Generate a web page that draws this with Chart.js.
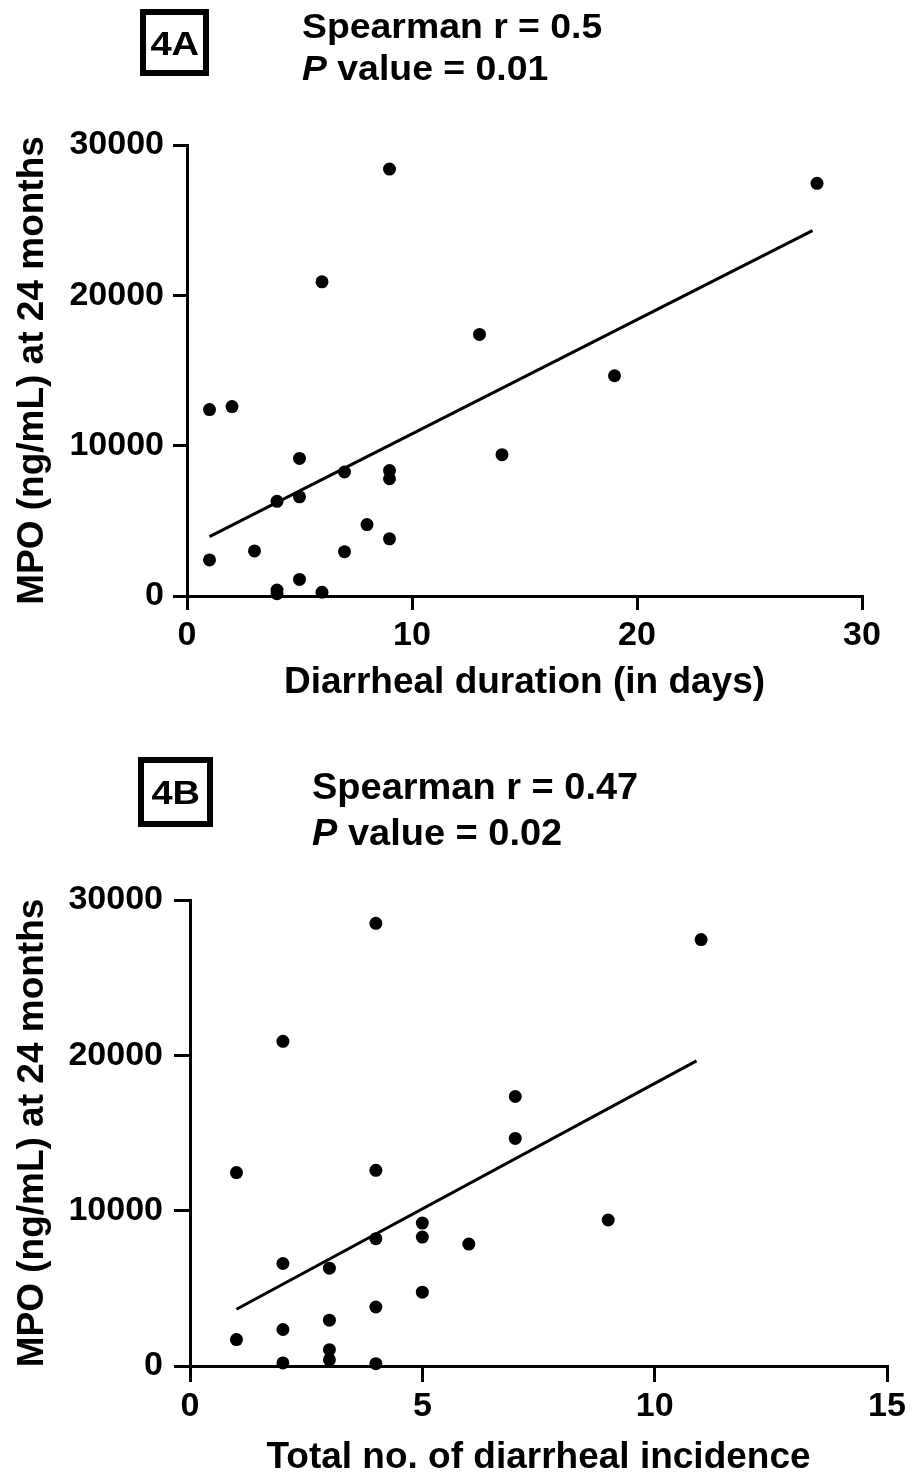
<!DOCTYPE html>
<html>
<head>
<meta charset="utf-8">
<script src="https://cdn.jsdelivr.net/npm/chart.js@4.4.1/dist/chart.umd.min.js"></script>
<style>
    html, body { margin: 0; padding: 0; background: #fff; overflow: hidden; }
    body { width: 918px; height: 1475px; position: relative; color: #000;
           font-family: "Liberation Sans", Arial, sans-serif; font-weight: bold; }
    canvas { position: absolute; left: 0; }
    #chartA { top: 0; }
    #chartB { top: 740px; }
    .tag { position: absolute; box-sizing: border-box; border: 6px solid #000;
           display: flex; align-items: center; justify-content: center; font-size: 34px; line-height: 1; }
    .tag span { display: inline-block; transform: scaleX(1.12); }
    .stat { position: absolute; white-space: nowrap; line-height: 1; transform-origin: 0 50%; }
</style>
</head>
<body>
<canvas id="chartA" width="918" height="720"></canvas>
<canvas id="chartB" width="918" height="735"></canvas>

<div class="tag" style="left:140px;top:9px;width:69px;height:67px"><span>4A</span></div>
<div class="stat" style="left:302px;top:8px;font-size:35px;transform:scaleX(1.068)">Spearman r = 0.5</div>
<div class="stat" style="left:302px;top:50px;font-size:35px;transform:scaleX(1.068)"><i>P</i> value = 0.01</div>

<div class="tag" style="left:138px;top:757px;width:75px;height:70px"><span>4B</span></div>
<div class="stat" style="left:312px;top:769px;font-size:36px;transform:scaleX(1.055)">Spearman r = 0.47</div>
<div class="stat" style="left:312px;top:815px;font-size:36px;transform:scaleX(1.055)"><i>P</i> value = 0.02</div>

<script>
// Panel A: MPO vs diarrheal duration (days)
const durationDays = [1, 1, 2, 3, 4, 4, 4, 5, 5, 5, 6, 6, 7, 7, 8, 9, 9, 9, 9, 13, 14, 19, 28];
const mpoA = [12400, 2400, 12600, 3000, 6300, 400, 150, 9150, 6600, 1100, 20900, 250,
              8250, 2950, 4750, 28400, 8350, 7800, 3800, 17400, 9400, 14650, 27450];
const fitAx = [1, 27.8];
const fitAy = [3950, 24300];
const daysTicks = [0, 10, 20, 30];

// Panel B: MPO vs total no. of diarrheal episodes
const incidence = [1, 1, 2, 2, 2, 2, 3, 3, 3, 3, 4, 4, 4, 4, 4, 5, 5, 5, 6, 7, 7, 9, 11];
const mpoB = [12450, 1700, 20900, 6600, 2350, 200, 6300, 2950, 1050, 400, 28500, 12600,
              8200, 3800, 150, 9200, 8300, 4750, 7850, 17350, 14650, 9400, 27450];
const fitBx = [1, 10.9];
const fitBy = [3650, 19640];
const incidenceTicks = [0, 5, 10, 15];

const mpoTicks = [0, 10000, 20000, 30000];
const yTitle = 'MPO (ng/mL) at 24 months';

const family = '"Liberation Sans", Arial, sans-serif';
const tickFont = { family, size: 34, weight: 'bold', lineHeight: 1 };
const titleFont = { family, size: 37, weight: 'bold', lineHeight: 1 };

// Pin the plot box so both panels sit where the reference puts them.
panel('chartA', durationDays, mpoA, fitAx, fitAy, daysTicks, 'Diarrheal duration (in days)',
    { top: 145, right: 56, yWidth: 187, xHeight: 124, yTick: [14, 9], xTick: [14, 9], xTitlePad: 18.5 });
panel('chartB', incidence, mpoB, fitBx, fitBy, incidenceTicks, 'Total no. of diarrheal incidence',
    { top: 160, right: 31, yWidth: 190, xHeight: 109, yTick: [16, 11], xTick: [16, 8], xTitlePad: -1 });

function panel(id, xs, ys, fx, fy, xTicks, xTitle, box) {
    const toPoints = (a, b) => a.map((x, i) => ({ x, y: b[i] }));
    new Chart(document.getElementById(id), {
        type: 'scatter',
        data: {
            datasets: [{
                data: toPoints(xs, ys),
                pointRadius: 6.5,
                pointBackgroundColor: '#000',
                pointBorderWidth: 0,
                clip: false,
            }, {
                type: 'line',
                data: toPoints(fx, fy),
                borderColor: '#000',
                borderWidth: 3,
                pointRadius: 0,
                clip: false,
            }],
        },
        options: {
            responsive: false,
            animation: false,
            events: [],
            layout: { padding: { top: box.top, right: box.right, left: 0, bottom: 0 } },
            plugins: { legend: { display: false }, tooltip: { enabled: false } },
            scales: {
                x: {
                    type: 'linear',
                    min: 0,
                    max: xTicks[xTicks.length - 1],
                    afterBuildTicks: (s) => { s.ticks = xTicks.map((v) => ({ value: v })); },
                    afterFit: (s) => { s.height = box.xHeight; },
                    grid: { drawOnChartArea: false, color: '#000', lineWidth: 3, tickLength: box.xTick[0] },
                    border: { color: '#000', width: 3 },
                    ticks: { color: '#000', padding: box.xTick[1], font: tickFont, maxRotation: 0, callback: (v) => String(v) },
                    title: { display: true, text: xTitle, color: '#000', font: titleFont, padding: { top: 0, bottom: box.xTitlePad } },
                },
                y: {
                    type: 'linear',
                    min: 0,
                    max: 30000,
                    afterBuildTicks: (s) => { s.ticks = mpoTicks.map((v) => ({ value: v })); },
                    afterFit: (s) => { s.width = box.yWidth; },
                    grid: { drawOnChartArea: false, color: '#000', lineWidth: 3, tickLength: box.yTick[0] },
                    border: { color: '#000', width: 3 },
                    ticks: { color: '#000', padding: box.yTick[1], font: tickFont, callback: (v) => String(v) },
                    title: { display: true, text: yTitle, color: '#000', font: titleFont, padding: { top: 14.5, bottom: 0 } },
                },
            },
        },
    });
}
</script>
</body>
</html>
